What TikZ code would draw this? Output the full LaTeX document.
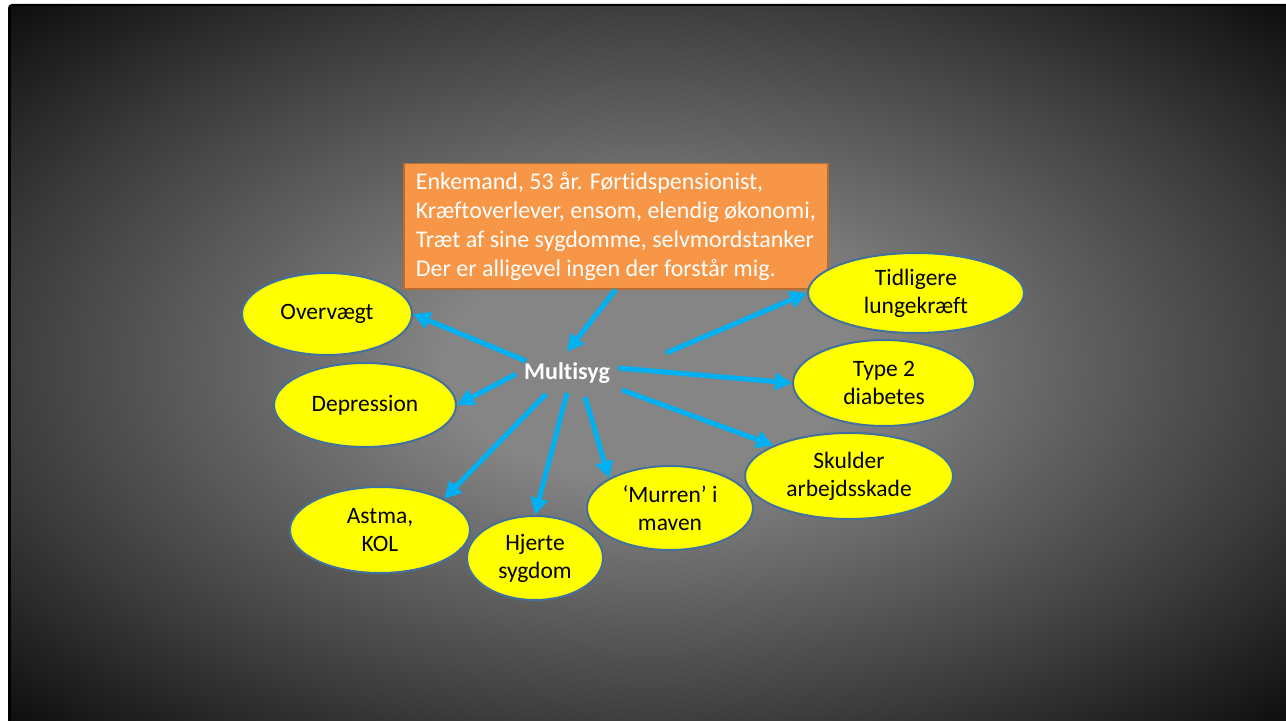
\documentclass[tikz,border=0pt]{standalone}
\usepackage{fontspec}
\setmainfont{Carlito}[Ligatures=NoCommon]
\usetikzlibrary{shapes.geometric,arrows.meta}
\definecolor{boxorange}{HTML}{F79646}
\definecolor{boxedge}{HTML}{B66D31}
\definecolor{blobyellow}{HTML}{FFFF00}
\definecolor{blobedge}{HTML}{41719C}
\definecolor{arrowblue}{HTML}{00B0F0}
\definecolor{bgin}{HTML}{858585}
\definecolor{bgmid}{HTML}{3E3E3E}
\definecolor{bgout}{HTML}{0E0E0E}
\pgfdeclareradialshading{slidebg}{\pgfpoint{0bp}{0bp}}{color(0bp)=(bgin); color(8bp)=(bgin); color(25bp)=(bgmid); color(35.5bp)=(bgout); color(50bp)=(bgout)}
\begin{document}
\begin{tikzpicture}[x=1bp,y=-1bp,
    blob/.style={ellipse,draw=blobedge,line width=2bp,fill=blobyellow,inner sep=0pt,align=center,font=\fontsize{23.5bp}{28bp}\selectfont},
    arr/.style={arrowblue,line width=5bp,-{Triangle[length=17bp,width=17bp]}}]
    \useasboundingbox (0,0) rectangle (1286,721);
    \fill[white] (0,0) rectangle (1286,721);
    \fill[black,rounded corners=4bp] (8,4) rectangle (1292,727);
    \shade[shading=slidebg] (11,7) rectangle (1286,721);
    \node[draw=boxedge,line width=1.5bp,fill=boxorange,text=white,anchor=north west,minimum width=424bp,minimum height=125bp,align=left,font=\fontsize{24bp}{29bp}\selectfont] (info) at (403,163) {Enkemand, 53 år. Førtidspensionist,\\Kræftoverlever, ensom, elendig økonomi,\\Træt af sine sygdomme, selvmordstanker\\Der er alligevel ingen der forstår mig.};
    \node[text=white,font=\bfseries\fontsize{24bp}{29bp}\selectfont,minimum width=102bp,minimum height=42bp] (ms) at (567,373) {Multisyg};
    \node[blob,minimum width=170bp,minimum height=82bp] (ov) at (327,314) {Overvægt};
    \node[blob,minimum width=182bp,minimum height=84bp] (dep) at (365,405) {Depression};
    \node[blob,minimum width=180bp,minimum height=86bp] (ast) at (380,530) {Astma,\\KOL};
    \node[blob,minimum width=136bp,minimum height=84bp] (hj) at (535,558) {Hjerte\\sygdom};
    \node[blob,minimum width=166bp,minimum height=84bp] (mu) at (670,508) {‘Murren’ i\\maven};
    \node[blob,minimum width=208bp,minimum height=86bp] (sk) at (849,476) {Skulder\\arbejdsskade};
    \node[blob,minimum width=182bp,minimum height=86bp] (ty) at (884,383) {Type 2\\diabetes};
    \node[blob,minimum width=216bp,minimum height=80bp] (tid) at (916,293) {Tidligere\\lungekræft};
    \draw[arr] (info.south) -- (ms.north);
    \draw[arr] ([shift={(-41,-12)}]ms.center) -- (ov.east);
    \draw[arr] ([shift={(-51,1)}]ms.center) -- (dep.east);
    \draw[arr] ([shift={(-21,21)}]ms.center) -- (ast.26);
    \draw[arr] ([shift={(0,20)}]ms.center) -- (hj.north);
    \draw[arr] ([shift={(18,24)}]ms.center) -- (mu.154);
    \draw[arr] ([shift={(55,17)}]ms.center) -- (sk.158);
    \draw[arr] ([shift={(51,-5)}]ms.center) -- (ty.west);
    \draw[arr] ([shift={(99,-20)}]ms.center) -- (tid.west);
\end{tikzpicture}
\end{document}
